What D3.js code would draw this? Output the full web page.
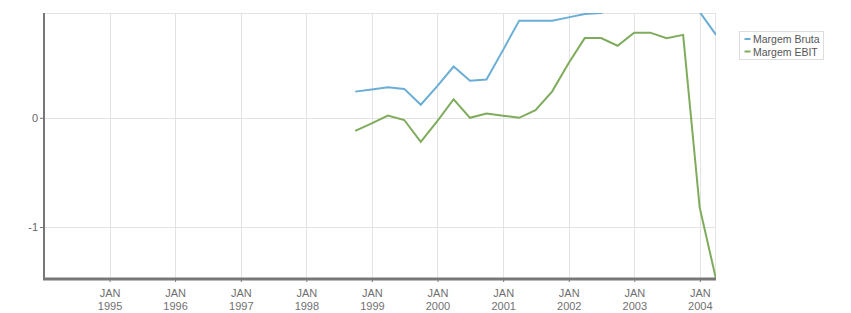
<!DOCTYPE html>
<html>
<head>
<meta charset="utf-8">
<script src="https://cdn.jsdelivr.net/npm/d3@7"></script>
<style>
  body { margin: 0; background: #fff; }
  text { font-family: "Liberation Sans", Arial, sans-serif; }
</style>
</head>
<body>
<div id="chart"></div>
<script>
// quarter-end dates
const quarters = [
  "1998-09-30", "1998-12-31", "1999-03-31", "1999-06-30", "1999-09-30", "1999-12-31",
  "2000-03-31", "2000-06-30", "2000-09-30", "2000-12-31", "2001-03-31", "2001-06-30",
  "2001-09-30", "2001-12-31", "2002-03-31", "2002-06-30", "2002-09-30", "2002-12-31",
  "2003-03-31", "2003-06-30", "2003-09-30", "2003-12-31", "2004-03-31"
];
const margemBruta = [
  0.24, 0.26, 0.28, 0.265, 0.12, 0.29, 0.47, 0.34, 0.35, 0.62, 0.89, 0.89,
  0.89, 0.92, 0.95, 0.96, 1.02, 1.05, 1.03, 1.06, 1.04, 0.97, 0.76
];
const margemEbit = [
  -0.12, -0.05, 0.02, -0.02, -0.22, -0.03, 0.17, 0.0, 0.04, 0.02, 0.0, 0.07,
  0.24, 0.5, 0.73, 0.73, 0.66, 0.78, 0.78, 0.73, 0.76, -0.82, -1.476
];
const seriesNames = ["Margem Bruta", "Margem EBIT"];
const seriesColors = ["#6aaed6", "#7fac5c"];
const yTicks = [0, -1];

const width = 851, height = 313;
const margin = { top: 13, right: 135, bottom: 34, left: 44 };
const parse = d3.timeParse("%Y-%m-%d");
const dates = quarters.map(parse);

const svg = d3.select("#chart").append("svg")
  .attr("width", width).attr("height", height);

const x = d3.scaleTime()
  .domain([new Date(1994, 0, 1), new Date(2004, 2, 31)])
  .range([margin.left, width - margin.right]);
const y = d3.scaleLinear()
  .domain([-1.476, 0.96])
  .range([height - margin.bottom, margin.top]);

const years = d3.timeYear.range(new Date(1995, 0, 1), new Date(2005, 0, 1));

// grid
const grid = svg.append("g").attr("stroke", "#e3e3e3").attr("stroke-width", 1);
grid.selectAll(".vx").data(years).join("line")
  .attr("x1", d => Math.round(x(d)) + 0.5).attr("x2", d => Math.round(x(d)) + 0.5)
  .attr("y1", y.range()[1]).attr("y2", y.range()[0]);
grid.selectAll(".hy").data(yTicks).join("line")
  .attr("x1", x.range()[0]).attr("x2", x.range()[1])
  .attr("y1", d => Math.round(y(d)) + 0.5).attr("y2", d => Math.round(y(d)) + 0.5);
// top and right border
grid.append("line").attr("x1", x.range()[0]).attr("x2", x.range()[1])
  .attr("y1", y.range()[1] + 0.5).attr("y2", y.range()[1] + 0.5);
grid.append("line").attr("x1", x.range()[1] - 0.5).attr("x2", x.range()[1] - 0.5)
  .attr("y1", y.range()[1]).attr("y2", y.range()[0]);

// lines
svg.append("clipPath").attr("id", "clip").append("rect")
  .attr("x", x.range()[0]).attr("y", y.range()[1])
  .attr("width", x.range()[1] - x.range()[0]).attr("height", y.range()[0] - y.range()[1]);

const line = d3.line().x((d, i) => x(dates[i])).y(d => y(d));
const plot = svg.append("g").attr("clip-path", "url(#clip)");
[margemBruta, margemEbit].forEach((vals, k) => {
  plot.append("path").datum(vals)
    .attr("fill", "none")
    .attr("stroke", seriesColors[k])
    .attr("stroke-width", 2)
    .attr("d", line);
});

// y axis
const yAxis = svg.append("g").attr("transform", `translate(${margin.left},0)`)
  .call(d3.axisLeft(y).tickValues(yTicks).tickSize(4).tickFormat(d => String(d)));
yAxis.select(".domain").attr("stroke", "#777").attr("stroke-width", 2)
  .attr("d", `M0,${y.range()[1]}V${y.range()[0]}`);
yAxis.selectAll(".tick line").attr("stroke", "#777");
yAxis.selectAll(".tick text").attr("fill", "#666").attr("font-size", 11)
  .attr("font-family", "Liberation Sans, Arial, sans-serif").attr("x", -6);

// x axis
const xAxis = svg.append("g").attr("transform", `translate(0,${y.range()[0]})`)
  .call(d3.axisBottom(x).tickValues(years.slice(0, 10)).tickSize(3).tickFormat(""));
xAxis.select(".domain").attr("stroke", "#777").attr("stroke-width", 3)
  .attr("d", `M${x.range()[0] - 1},0H${x.range()[1]}`);
xAxis.selectAll(".tick line").attr("stroke", "#777");
const lbl = xAxis.selectAll(".tick").append("text")
  .attr("fill", "#707070").attr("font-size", 11).attr("text-anchor", "middle")
  .attr("font-family", "Liberation Sans, Arial, sans-serif");
lbl.append("tspan").attr("x", 0).attr("y", 18).text("JAN");
lbl.append("tspan").attr("x", 0).attr("y", 31).text(d => d3.timeFormat("%Y")(d));

// legend
const lg = svg.append("g").attr("transform", "translate(739.5,31.5)");
lg.append("rect").attr("width", 84).attr("height", 28)
  .attr("fill", "#fff").attr("stroke", "#ddd");
seriesNames.forEach((name, i) => {
  const row = lg.append("g").attr("transform", `translate(0,${7.5 + i * 12.5})`);
  row.append("line").attr("x1", 5).attr("x2", 11).attr("y1", 0).attr("y2", 0)
    .attr("stroke", seriesColors[i]).attr("stroke-width", 2);
  row.append("text").attr("x", 13.5).attr("y", 4).attr("font-size", 10.5)
    .attr("fill", "#555").text(name);
});
</script>
</body>
</html>
